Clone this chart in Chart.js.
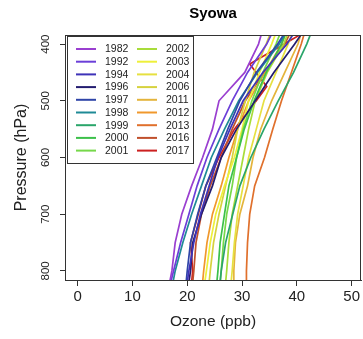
<!DOCTYPE html>
<html>
<head>
<meta charset="utf-8">
<script src="https://cdn.jsdelivr.net/npm/chart.js@4/dist/chart.umd.min.js"></script>
<style>
  html, body { margin: 0; padding: 0; background: #fff; }
</style>
</head>
<body>
<canvas id="chart" width="363" height="339"></canvas>
<script>
// pressure levels (hPa) shared by most soundings
const levels = [820, 800, 750, 700, 650, 600, 550, 500, 450, 400, 380];
// 2017 has an extra fold near 450-480 hPa
const levels2017 = [820, 800, 750, 700, 650, 600, 550, 500, 475, 435, 400, 380];

const years = ['1982', '1992', '1994', '1996', '1997', '1998', '1999', '2000', '2001',
               '2002', '2003', '2004', '2006', '2011', '2012', '2013', '2016', '2017'];
const colors = ['#9a3fd0', '#6b3fd8', '#3e32b8', '#231c70', '#2f45a8', '#1f8a96', '#2aa56a', '#3cc04a', '#76d84a',
                '#a8dc3a', '#eef03a', '#e6e040', '#d6d23e', '#e4b43c', '#f0982c', '#e0702c', '#c0502c', '#cc2020'];

// ozone (ppb) at each level
const o1982 = [16.8, 17.2, 17.8, 19.0, 20.8, 22.8, 24.6, 25.8, 30.5, 33.0, 33.6];
const o1992 = [17.0, 17.5, 18.8, 20.3, 21.8, 23.6, 25.8, 28.2, 31.0, 34.5, 35.5];
const o1994 = [20.0, 20.3, 21.2, 22.4, 24.0, 25.6, 27.8, 30.2, 33.8, 38.2, 39.5];
const o1996 = [20.3, 20.6, 21.0, 22.6, 24.6, 26.2, 29.0, 32.4, 35.8, 39.6, 41.0];
const o1997 = [19.8, 20.0, 20.6, 21.9, 23.4, 25.4, 27.4, 29.6, 32.6, 36.5, 37.8];
const o1998 = [17.4, 17.8, 19.2, 20.8, 22.6, 24.4, 26.8, 29.4, 32.8, 36.8, 38.0];
const o1999 = [26.0, 26.2, 27.0, 28.3, 29.6, 31.6, 34.0, 36.6, 39.4, 41.8, 42.6];
const o2000 = [25.4, 25.6, 26.0, 26.8, 27.6, 29.0, 30.4, 32.2, 34.4, 37.2, 38.0];
const o2001 = [26.0, 26.2, 26.6, 27.2, 28.2, 29.0, 30.2, 31.8, 33.8, 36.2, 37.0];
const o2002 = [27.0, 27.2, 27.6, 28.2, 29.2, 30.2, 31.2, 32.4, 34.6, 37.6, 38.4];
const o2003 = [23.2, 23.5, 24.2, 25.2, 26.8, 28.6, 30.0, 31.2, 33.2, 35.4, 36.2];
const o2004 = [28.0, 28.2, 28.6, 29.2, 30.2, 31.2, 32.6, 34.0, 36.2, 38.4, 39.2];
const o2006 = [24.0, 24.2, 24.8, 25.8, 27.0, 28.2, 29.2, 30.6, 32.2, 34.4, 35.2];
const o2011 = [28.4, 28.5, 28.8, 29.6, 31.0, 32.0, 33.4, 35.4, 37.8, 40.2, 40.8];
const o2012 = [22.8, 23.0, 23.6, 24.6, 26.2, 27.6, 29.2, 31.2, 34.2, 37.2, 38.0];
const o2013 = [30.8, 30.8, 31.0, 31.4, 32.3, 34.1, 35.6, 37.2, 39.0, 40.8, 41.4];
const o2016 = [21.0, 21.2, 21.6, 22.6, 24.2, 26.2, 28.2, 30.6, 34.0, 37.8, 38.8];
const o2017 = [20.8, 21.0, 20.6, 22.0, 23.4, 25.8, 28.6, 32.6, 34.5, 31.4, 37.7, 41.2];

const ozone = [o1982, o1992, o1994, o1996, o1997, o1998, o1999, o2000, o2001,
               o2002, o2003, o2004, o2006, o2011, o2012, o2013, o2016, o2017];

const xTicks = [0, 10, 20, 30, 40, 50];
const yTicks = [400, 500, 600, 700, 800];

const FONT = "'Liberation Sans', Arial, sans-serif";

const datasets = years.map(function (yr, i) {
    const lv = yr === '2017' ? levels2017 : levels;
    return {
        label: yr,
        data: ozone[i].map(function (v, j) { return { x: v, y: lv[j] }; }),
        borderColor: colors[i],
        backgroundColor: colors[i],
        borderWidth: 1.7,
        showLine: true,
        pointRadius: 0,
        tension: 0
    };
});

// title, plot box and the two-column legend, drawn R style
const decorations = {
    id: 'decorations',
    afterDatasetsDraw(chart) {
        const ctx = chart.ctx;
        const a = chart.chartArea;
        ctx.save();
        ctx.strokeStyle = '#333';
        ctx.lineWidth = 1;
        ctx.strokeRect(a.left + 0.5, a.top + 0.5, a.right - a.left - 1, a.bottom - a.top);

        ctx.fillStyle = '#000';
        ctx.font = 'bold 15px ' + FONT;
        ctx.textAlign = 'center';
        ctx.textBaseline = 'middle';
        ctx.fillText('Syowa', (a.left + a.right) / 2, 14);

        // legend
        const lx = a.left + 2, ly = a.top + 1, lw = 126, lh = 127;
        ctx.fillStyle = '#fff';
        ctx.fillRect(lx, ly, lw, lh);
        ctx.strokeStyle = '#333';
        ctx.strokeRect(lx + 0.5, ly + 0.5, lw, lh);
        ctx.font = '10.5px ' + FONT;
        ctx.textAlign = 'left';
        for (let i = 0; i < years.length; i++) {
            const col = Math.floor(i / 9), row = i % 9;
            const x0 = lx + 9 + col * 61;
            const y0 = ly + 13 + row * 12.7;
            ctx.strokeStyle = colors[i];
            ctx.lineWidth = 2;
            ctx.beginPath();
            ctx.moveTo(x0, y0);
            ctx.lineTo(x0 + 20, y0);
            ctx.stroke();
            ctx.fillStyle = '#222';
            ctx.fillText(years[i], x0 + 29, y0 + 0.5);
        }
        ctx.restore();
    }
};

new Chart(document.getElementById('chart'), {
    type: 'scatter',
    data: { datasets: datasets },
    options: {
        responsive: false,
        animation: false,
        devicePixelRatio: 1,
        layout: { padding: { top: 35, right: 2, left: 0, bottom: 0 } },
        plugins: {
            legend: { display: false },
            tooltip: { enabled: false }
        },
        scales: {
            x: {
                type: 'linear',
                min: -2.3,
                max: 51.7,
                afterBuildTicks: function (s) { s.ticks = xTicks.map(function (v) { return { value: v }; }); },
                afterFit: function (s) { s.height = 59; },
                grid: { drawOnChartArea: false, tickLength: 6, color: '#333' },
                border: { color: '#333' },
                ticks: { font: { size: 15, family: FONT }, color: '#222', padding: 2, maxRotation: 0 },
                title: { display: true, text: 'Ozone (ppb)', font: { size: 15.5, family: FONT }, color: '#222',
                         padding: { top: 0, bottom: 8 } }
            },
            y: {
                type: 'linear',
                reverse: true,
                min: 384,
                max: 816,
                afterBuildTicks: function (s) { s.ticks = yTicks.map(function (v) { return { value: v }; }); },
                afterFit: function (s) { s.width = 65; },
                grid: { drawOnChartArea: false, tickLength: 5, color: '#333' },
                border: { color: '#333' },
                ticks: { font: { size: 11.5, family: FONT }, color: '#222', padding: 5,
                         minRotation: 90, maxRotation: 90, crossAlign: 'center' },
                title: { display: true, text: 'Pressure (hPa)', font: { size: 16, family: FONT }, color: '#222',
                         padding: { top: 12, bottom: 0 } }
            }
        }
    },
    plugins: [decorations]
});
</script>
</body>
</html>
